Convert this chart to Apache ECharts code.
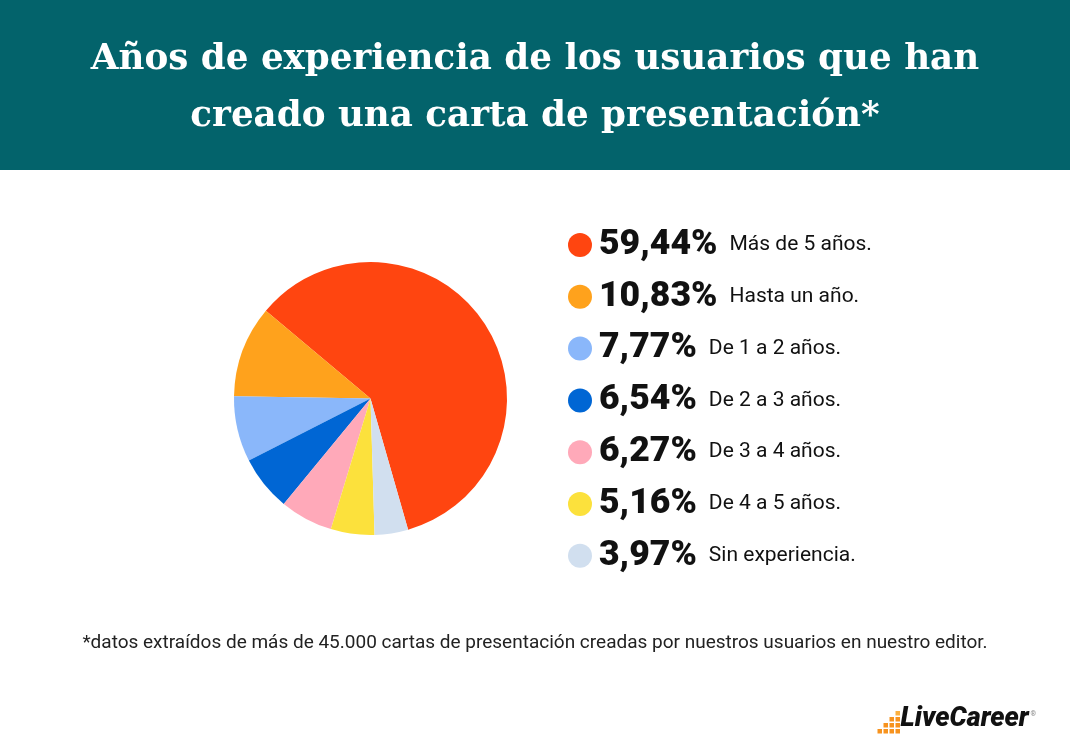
<!DOCTYPE html>
<html><head><meta charset="utf-8">
<script src="https://cdn.jsdelivr.net/npm/echarts@6/dist/echarts.min.js"></script>
<style>html,body{margin:0;padding:0;background:#fff}#c{width:1070px;height:753px}</style>
</head><body><div id="c"></div>
<script>
const categories = ['Más de 5 años.', 'Hasta un año.', 'De 1 a 2 años.', 'De 2 a 3 años.', 'De 3 a 4 años.', 'De 4 a 5 años.', 'Sin experiencia.'];
const values = [59.44, 10.83, 7.77, 6.54, 6.27, 5.16, 3.97];
const colors = ['#FF4510', '#FFA21C', '#8AB7FA', '#0066D4', '#FFA9B9', '#FCE13C', '#D1DFEF'];
const titleText = 'Años de experiencia de los usuarios que han\ncreado una carta de presentación*';
const footnote = '*datos extraídos de más de 45.000 cartas de presentación creadas por nuestros usuarios en nuestro editor.';

const fmt = v => v.toFixed(2).replace('.', ',') + '%';
const chart = echarts.init(document.getElementById('c'), null, {renderer: 'canvas'});
chart.setOption({
  backgroundColor: '#fff',
  animation: false,
  graphic: [
    {type: 'rect', left: 0, top: 0, shape: {width: 1070, height: 170}, style: {fill: '#03636B'}, z: 0},
    {type: 'text', left: 'center', top: 31, z: 2,
     style: {text: titleText, fill: '#fff', font: 'bold 35.7px "DejaVu Serif", serif', lineHeight: 57, textAlign: 'center'}},
    {type: 'text', left: 'center', top: 634, z: 2,
     style: {text: footnote, fill: '#222', font: '19px Roboto, sans-serif'}},
    {type: 'group', right: 34, top: 706, z: 2, children: [
      {type: 'rect', shape: {x: 0, y: 18, width: 4.5, height: 4.5}, style: {fill: '#F7931E'}},
      {type: 'rect', shape: {x: 6, y: 12, width: 4.5, height: 4.5}, style: {fill: '#F7931E'}},
      {type: 'rect', shape: {x: 6, y: 18, width: 4.5, height: 4.5}, style: {fill: '#F7931E'}},
      {type: 'rect', shape: {x: 12, y: 6, width: 4.5, height: 4.5}, style: {fill: '#F7931E'}},
      {type: 'rect', shape: {x: 12, y: 12, width: 4.5, height: 4.5}, style: {fill: '#F7931E'}},
      {type: 'rect', shape: {x: 12, y: 18, width: 4.5, height: 4.5}, style: {fill: '#F7931E'}},
      {type: 'rect', shape: {x: 18, y: 0, width: 4.5, height: 4.5}, style: {fill: '#FBB040'}},
      {type: 'rect', shape: {x: 18, y: 6, width: 4.5, height: 4.5}, style: {fill: '#F7931E'}},
      {type: 'rect', shape: {x: 18, y: 12, width: 4.5, height: 4.5}, style: {fill: '#F7931E'}},
      {type: 'rect', shape: {x: 18, y: 18, width: 4.5, height: 4.5}, style: {fill: '#F7931E'}},
      {type: 'text', x: 23, y: -5, style: {text: 'LiveCareer', fill: '#111', font: 'italic 900 27px Roboto, sans-serif'}},
      {type: 'text', x: 153, y: 0, style: {text: '®', fill: '#888', font: '7px Roboto, sans-serif'}}
    ]}
  ],
  legend: {
    orient: 'vertical', left: 563, top: 220,
    icon: 'circle', itemWidth: 24, itemHeight: 24, itemGap: 11.8,
    selectedMode: false,
    data: categories,
    formatter: name => {
      const i = categories.indexOf(name);
      return '{p|' + fmt(values[i]) + '}{l|' + name + '}';
    },
    textStyle: {
      lineHeight: 40, padding: [0, 0, 0, 2],
      rich: {
        p: {fontFamily: 'Roboto', fontWeight: 900, fontSize: 35.6, color: '#111', lineHeight: 40, padding: [0, 12, 0, 0]},
        l: {fontFamily: 'Roboto', fontSize: 21, color: '#111', lineHeight: 40}
      }
    }
  },
  series: [{
    type: 'pie', center: [370.5, 398.5], radius: [0, 136.5],
    clockwise: false, startAngle: -74,
    label: {show: false}, labelLine: {show: false},
    itemStyle: {borderWidth: 0},
    emphasis: {disabled: true},
    data: categories.map((c, i) => ({name: c, value: values[i], itemStyle: {color: colors[i]}}))
  }]
});
</script></body></html>
